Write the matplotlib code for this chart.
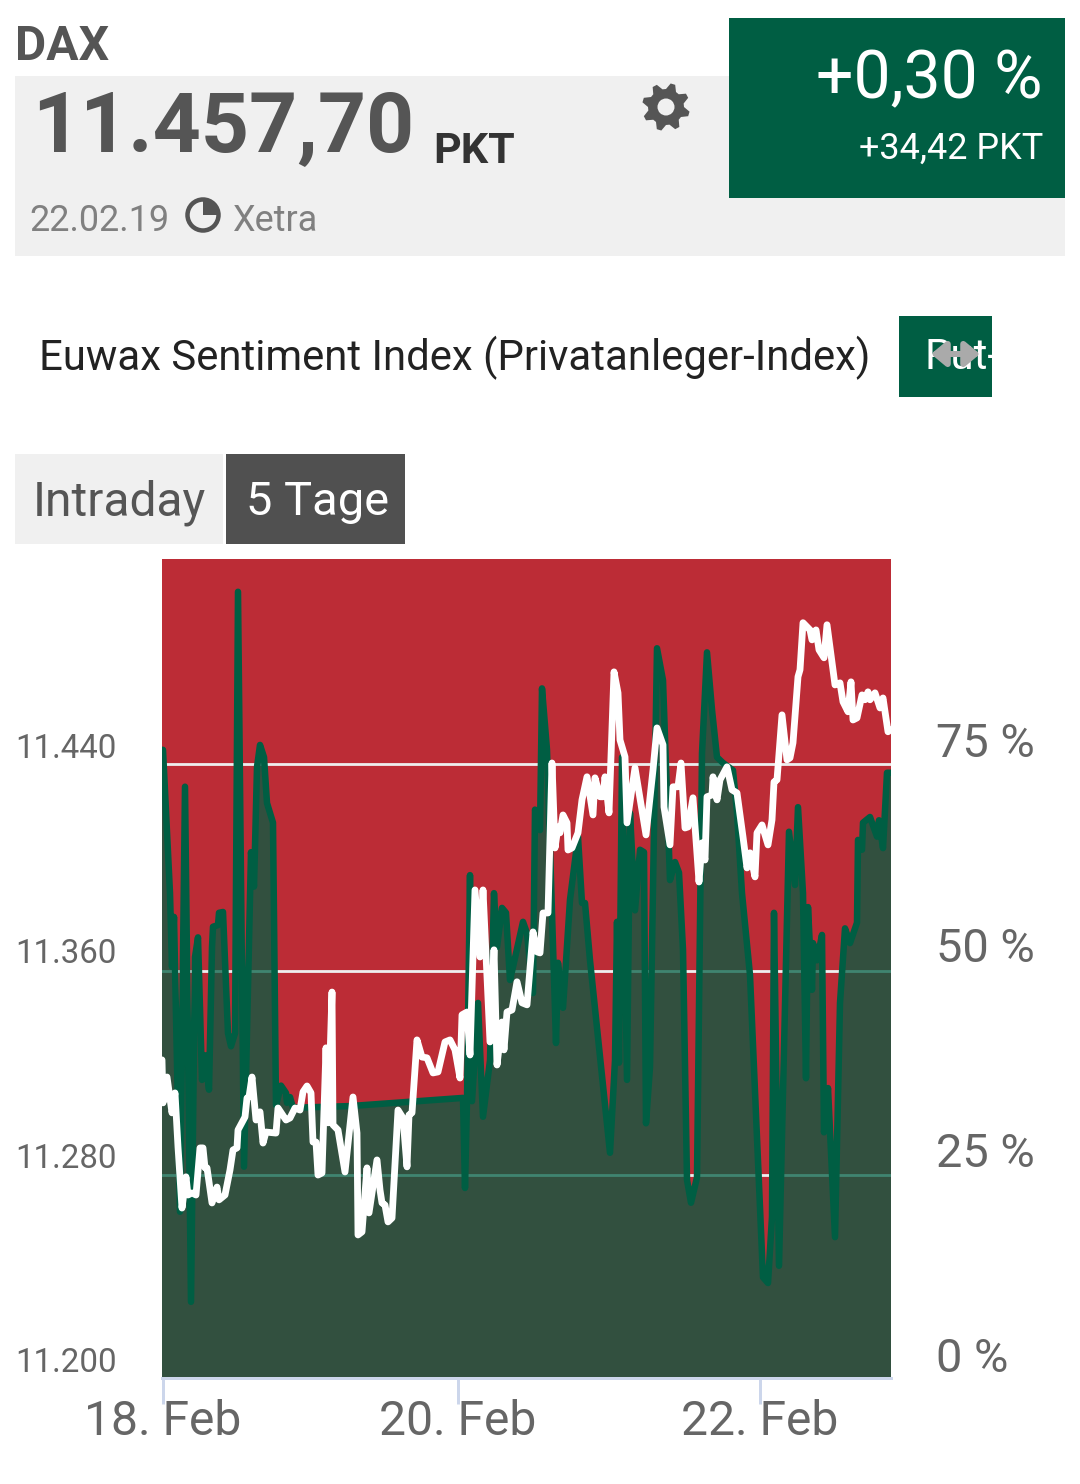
import matplotlib
matplotlib.use("Agg")
import matplotlib.pyplot as plt
import numpy as np
from matplotlib.patches import Rectangle, Circle, Wedge, Polygon

plt.rcParams['font.family'] = ['Roboto', 'DejaVu Sans']

# ---- data -------------------------------------------------------------
x_ticks = [1, 295.5, 598]
x_labels = ['18. Feb', '20. Feb', '22. Feb']
pct_ticks = [0, 25, 50, 75]
pct_labels = ['0 %', '25 %', '50 %', '75 %']
price_ticks = [11200, 11280, 11360, 11440]
price_labels = ['11.200', '11.280', '11.360', '11.440']
grid_levels = [24.8, 49.65, 75]

sent_x = [0, 1, 8, 10, 12, 18, 23, 29, 33, 36, 40, 43, 47, 50, 51, 56, 57, 61, 66, 69, 73, 76,
          82, 89, 92, 95, 98, 102, 105, 111, 114, 119, 124, 125, 128, 131, 188, 301, 303,
          305, 308, 310, 316, 321, 328, 332, 335, 340, 344, 348, 351, 361, 365, 371, 373,
          378, 380, 385, 394, 396, 401, 408, 416, 420, 423, 428, 448, 453, 455, 457, 460,
          465, 468, 473, 478, 482, 484, 488, 495, 501, 508, 513, 517, 521, 525, 529, 535,
          540, 545, 550, 555, 561, 571, 575, 580, 588, 601, 606, 610, 612, 617, 627, 633,
          636, 641, 644, 646, 650, 651, 655, 660, 662, 666, 673, 678, 683, 688, 695, 696,
          700, 701, 708, 715, 717, 721, 725, 729]
sent_pct = [76.7, 76.7, 59.2, 50.2, 56.3, 20.3, 72.2, 9.3, 51.4, 53.8, 36.4, 39.4, 35.2, 52.6, 55.1,
            55.3, 56.8, 56.9, 42.1, 40.5, 42.1, 96.0, 25.8, 64.2, 60.0, 74.6, 77.3, 75.8,
            70.2, 67.8, 33.3, 35.7, 34.8, 33.6, 34.3, 33.0, 33.2, 34.2, 23.2, 33.9, 61.4,
            33.8, 45.8, 31.9, 38.8, 59.2, 52.6, 57.4, 56.8, 48.6, 50.2, 55.7, 54.3, 47.0,
            69.4, 66.9, 84.2, 76.7, 40.9, 50.7, 45.2, 58.4, 66.1, 58.0, 58.0, 51.0, 27.5,
            38.8, 55.7, 38.5, 75.8, 36.4, 69.0, 57.1, 64.5, 64.2, 31.1, 38.0, 89.1, 85.2,
            60.8, 63.0, 61.7, 52.3, 24.2, 21.4, 24.5, 76.3, 88.6, 81.6, 75.8, 75.1, 74.2,
            69.0, 59.2, 49.2, 12.3, 11.6, 19.7, 56.8, 13.7, 66.7, 60.2, 69.7, 59.2, 36.6,
            57.5, 47.4, 53.1, 51.0, 54.1, 30.0, 35.4, 17.2, 45.8, 54.9, 53.1, 55.6, 65.7,
            64.5, 67.8, 68.5, 66.1, 68.1, 64.7, 73.9, 73.9]

price_x = [0, 1, 5, 10, 13, 16, 20, 24, 26, 30, 34, 38, 41, 43, 45, 50, 55, 57, 63, 68, 71,
           75, 76, 83, 85, 87, 90, 94, 98, 101, 104, 114, 116, 124, 128, 133, 138, 141, 145,
           149, 151, 154, 156, 160, 164, 166, 170, 171, 176, 183, 191, 195, 196, 200, 205,
           207, 215, 218, 220, 223, 226, 230, 236, 241, 245, 247, 250, 255, 260, 265, 271,
           276, 283, 288, 293, 298, 300, 305, 308, 313, 318, 321, 328, 332, 335, 340, 342,
           345, 350, 355, 360, 365, 371, 375, 378, 381, 386, 390, 393, 396, 398, 401, 405,
           406, 410, 416, 420, 425, 431, 433, 438, 441, 443, 447, 452, 456, 458, 463, 465,
           473, 484, 491, 495, 501, 502, 508, 511, 516, 519, 523, 526, 531, 537, 540, 543,
           545, 550, 551, 555, 558, 565, 570, 575, 581, 585, 588, 593, 595, 600, 606, 610,
           612, 615, 620, 625, 628, 631, 636, 638, 641, 648, 650, 654, 657, 662, 665, 673,
           678, 681, 686, 689, 691, 695, 700, 703, 706, 708, 713, 718, 721, 726, 728]
price_val = [11324.3, 11307.5, 11317.6, 11303.6, 11311.4, 11290.3, 11266.4, 11278.6, 11271.5,
             11272.3, 11271.5, 11289.9, 11289.9, 11282.1, 11282.1, 11268.4, 11274.6, 11269.6,
             11271.5, 11281.3, 11289.1, 11289.9, 11296.9, 11302.0, 11309.4, 11309.8, 11317.6,
             11300.8, 11304.0, 11291.8, 11296.1, 11295.7, 11305.5, 11300.8, 11301.6, 11305.5,
             11304.7, 11311.8, 11314.1, 11311.4, 11292.2, 11292.2, 11279.3, 11280.1, 11329.0,
             11299.7, 11350.8, 11298.9, 11296.9, 11280.5, 11309.8, 11295.7, 11255.9, 11257.1,
             11282.1, 11264.5, 11285.2, 11273.5, 11268.4, 11267.6, 11261.0, 11262.5, 11304.7,
             11301.6, 11282.5, 11302.8, 11303.6, 11332.1, 11325.4, 11325.1, 11319.2, 11319.6,
             11331.3, 11332.1, 11328.2, 11317.2, 11341.9, 11343.0, 11326.2, 11390.7, 11364.5,
             11390.7, 11331.3, 11367.3, 11322.3, 11339.1, 11328.2, 11343.0, 11343.8, 11354.8,
             11346.6, 11345.8, 11374.3, 11366.5, 11366.1, 11381.7, 11381.7, 11440.3, 11407.1,
             11415.3, 11413.0, 11420.0, 11416.9, 11406.3, 11407.1, 11413.0, 11425.9, 11434.9,
             11420.0, 11434.5, 11427.1, 11427.1, 11434.9, 11420.8, 11475.9, 11467.7, 11449.3,
             11442.7, 11416.9, 11438.4, 11412.2, 11437.6, 11454.0, 11447.4, 11423.1, 11408.3,
             11431.0, 11431.0, 11440.3, 11414.9, 11415.3, 11426.7, 11393.8, 11409.1, 11402.4,
             11427.1, 11427.8, 11434.9, 11425.9, 11433.7, 11438.8, 11429.8, 11428.6, 11411.4,
             11399.3, 11405.2, 11395.8, 11413.0, 11416.1, 11408.3, 11418.1, 11432.9, 11433.7,
             11459.1, 11441.5, 11442.3, 11448.2, 11474.0, 11476.7, 11495.1, 11492.3, 11488.4,
             11492.3, 11484.5, 11481.4, 11494.3, 11470.8, 11471.6, 11464.2, 11460.3, 11472.0,
             11457.1, 11457.9, 11466.9, 11465.0, 11468.1, 11465.0, 11467.7, 11461.8, 11465.7,
             11452.5, 11453.2]

n = min(len(sent_x), len(sent_pct))
sent_x, sent_pct = sent_x[:n], sent_pct[:n]

# ---- colours -----------------------------------------------------------
GREEN = '#005E43'
RED = '#BC2C36'
GREY = '#666666'
px = 0.72  # points per pixel at dpi 100

fig = plt.figure(figsize=(10.8, 14.84), dpi=100, facecolor='white')

# ---- page furniture, in pixel coordinates -----------------------------
page = fig.add_axes([0, 0, 1, 1], zorder=0)
page.set_xlim(0, 1080)
page.set_ylim(1484, 0)
page.axis('off')


def box(x0, y0, x1, y1, color):
    r = Rectangle((x0, y0), x1 - x0, y1 - y0, facecolor=color, edgecolor='none')
    page.add_patch(r)
    return r


box(15, 76, 1065, 256, '#F0F0F0')
box(729, 18, 1065, 198, GREEN)
put_box = box(899, 316, 992, 397, GREEN)
box(15, 454, 223, 544, '#F0F0F0')
box(226, 454, 405, 544, '#505050')

page.text(15, 42, 'DAX', fontsize=48 * px, fontweight='bold', color='#555555', va='center_baseline')
page.text(32, 120, '11.457,70', fontsize=84 * px, fontweight='bold', color='#555555', va='center_baseline')
page.text(433, 147, 'PKT', fontsize=43 * px, fontweight='bold', color='#333333', va='center_baseline')
page.text(29, 217, '22.02.19', fontsize=36 * px, color='#808080', va='center_baseline')
page.text(233, 217, 'Xetra', fontsize=36 * px, color='#808080', va='center_baseline')

# gear icon
teeth = 8
angles = np.linspace(0, 2 * np.pi, teeth * 4, endpoint=False) + np.pi / teeth / 2 - np.pi / 2
radii = np.tile([24, 24, 18, 18], teeth)
page.add_patch(Polygon(np.column_stack([666 + radii * np.cos(angles), 107 + radii * np.sin(angles)]),
                       closed=True, facecolor='#555555', edgecolor='none'))
page.add_patch(Circle((666, 107), 8.5, facecolor='#F0F0F0', edgecolor='none'))

page.add_patch(Circle((203, 215), 15.5, facecolor='none', edgecolor='#555555', lw=4.5 * px))
page.add_patch(Wedge((203, 215), 15.5, 270, 360, facecolor='#555555', edgecolor='none'))
page.text(1043, 73, '+0,30 %', fontsize=66 * px, color='white', ha='right', va='center_baseline')
page.text(1043, 145, '+34,42 PKT', fontsize=36 * px, color='white', ha='right', va='center_baseline')
page.text(39, 353, 'Euwax Sentiment Index (Privatanleger-Index)', fontsize=41.9 * px,
          color='#222222', va='center_baseline')
put = page.text(924, 353, 'Put-', fontsize=42 * px, color='white', va='center_baseline')
put.set_clip_path(put_box)
page.annotate('', xy=(980, 354), xytext=(931, 354),
              arrowprops=dict(arrowstyle='<|-|>,head_length=0.3,head_width=0.25', color='#AAAAAA',
                              lw=6 * px, shrinkA=0, shrinkB=0, mutation_scale=29))
page.text(33, 497, 'Intraday', fontsize=48 * px, color='#555555', va='center_baseline')
page.text(246, 497, '5 Tage', fontsize=47 * px, color='white', va='center_baseline')

# ---- chart -------------------------------------------------------------
ax = fig.add_axes([162 / 1080, (1484 - 1378) / 1484, 729 / 1080, 819 / 1484], zorder=1)
ax.set_facecolor(RED)
ax.set_xlim(0, 729)
ax.set_ylim(0, 100)
ax.set_axisbelow(True)
ax.set_yticks(grid_levels)
ax.tick_params(axis='y', length=0, labelleft=False)
ax.grid(axis='y', color='#EEEEEE', lw=2.8 * px)
ax.grid(axis='x', visible=False)
for s in ('top', 'left', 'right'):
    ax.spines[s].set_visible(False)
ax.spines['bottom'].set_color('#CCD6EB')
ax.spines['bottom'].set_linewidth(3 * px)
ax.set_xticks(x_ticks)
ax.set_xticklabels(x_labels, fontsize=48 * px, color=GREY)
ax.tick_params(axis='x', length=26 * px, width=3 * px, color='#CCD6EB', pad=-3.5)

ax.fill_between(sent_x, sent_pct, 0, facecolor=GREEN, alpha=0.734, linewidth=0)
ax.plot(sent_x, sent_pct, color=GREEN, lw=6.5 * px, solid_joinstyle='round', solid_capstyle='round')

for v, lab in zip(pct_ticks, pct_labels):
    ax.annotate(lab, (1, v), xycoords=('axes fraction', 'data'), xytext=(45, 24),
                textcoords='offset pixels', fontsize=47 * px, color=GREY, va='center_baseline')

price_ax = ax.twinx()
price_ax.set_ylim(11200, 11520)
price_ax.patch.set_visible(False)
price_ax.set_yticks([])
for s in price_ax.spines.values():
    s.set_visible(False)
price_ax.plot(price_x, price_val, color='white', lw=6.8 * px, solid_joinstyle='round',
              solid_capstyle='round')

for v, lab in zip(price_ticks, price_labels):
    price_ax.annotate(lab, (0, v), xycoords=('axes fraction', 'data'), xytext=(-45, 18),
                      textcoords='offset pixels', fontsize=33 * px, color=GREY, ha='right',
                      va='center_baseline')

fig.savefig('out.png', dpi=100)
